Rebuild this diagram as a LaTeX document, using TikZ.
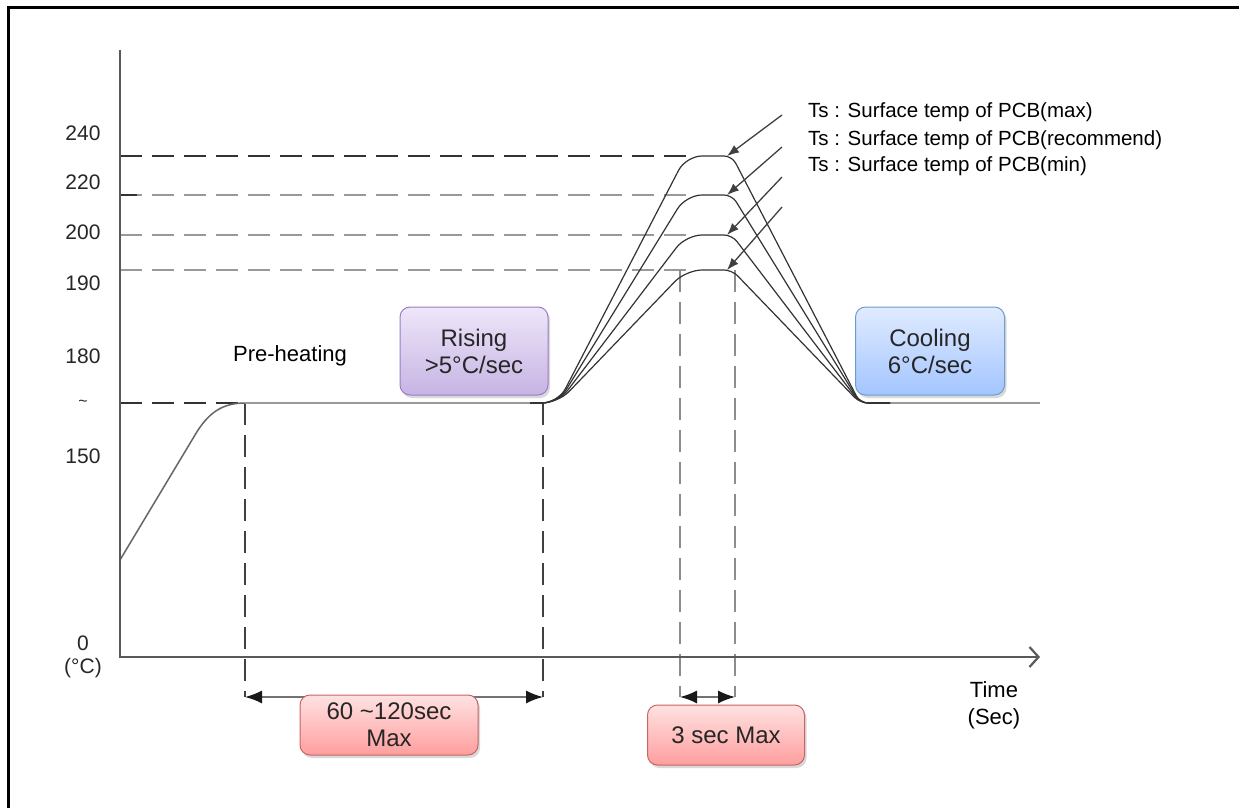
\documentclass[tikz,border=0pt]{standalone}
\usepackage{fontspec}
\setmainfont{Liberation Sans}
\usetikzlibrary{arrows.meta,shadows}
\definecolor{redtop}{RGB}{255,226,226}
\definecolor{redbot}{RGB}{255,158,158}
\definecolor{redline}{RGB}{200,100,100}
\definecolor{lilactop}{RGB}{238,230,249}
\definecolor{lilacbot}{RGB}{198,180,228}
\definecolor{lilacline}{RGB}{155,125,195}
\definecolor{skytop}{RGB}{224,235,255}
\definecolor{skybot}{RGB}{163,197,255}
\definecolor{skyline}{RGB}{110,155,210}

\begin{document}
\begin{tikzpicture}[x=1pt,y=-1pt,
    axis/.style={draw=black!65,line width=2.2pt},
    guide/.style={line width=2.4pt,dash pattern=on 22pt off 10pt},
    profile/.style={draw=black!80,line width=1.2pt},
    leader/.style={draw=black!75,line width=1.3pt,-{Latex[length=12pt,width=9pt]}},
    dim/.style={draw=black!55,line width=1.5pt,{Latex[length=17pt,width=13pt,color=black!90]}-{Latex[length=17pt,width=13pt,color=black!90]}},
    ylab/.style={font=\fontsize{21}{24}\selectfont,text=black!85},
    tslabel/.style={anchor=west,font=\fontsize{20.5}{22}\selectfont,inner sep=0pt},
    box/.style={rounded corners=10pt,line width=1pt,minimum height=60pt,align=center,
        font=\fontsize{24}{27}\selectfont,text=black!85,
        drop shadow={opacity=0.3,shadow xshift=2pt,shadow yshift=-3pt}},
    redbox/.style={draw=redline,top color=redtop,bottom color=redbot},
    purplebox/.style={draw=lilacline,top color=lilactop,bottom color=lilacbot},
    bluebox/.style={draw=skyline,top color=skytop,bottom color=skybot}]
    \useasboundingbox (0,0) rectangle (1239,808);
    \draw[line width=3pt] (8,808) -- (8,8) -- (1239,8);

    \foreach \val/\ypos in {240/133,220/182,200/232,190/283,180/356,150/456,0/643}
        \node[ylab] (y\val) at (83,\ypos) {\val};
    \node[ylab,font=\fontsize{16}{18}\selectfont] (ytilde) at (83,403) {\textasciitilde};
    \node[ylab] (yunit) at (83,668) {(°C)};

    \draw[guide,draw=black!80] (120,156) -- (690,156);
    \foreach \lev in {195,235,270}
        \draw[guide,draw=black!40] (120,\lev) -- (690,\lev);
    \draw[draw=black!80,line width=2.4pt] (120,195) -- (137,195);
    \draw[guide,draw=black!80] (120,403) -- (245,403);
    \foreach \xpos in {245,543}
        \draw[guide,draw=black!75,line width=1.8pt] (\xpos,403) -- (\xpos,697);
    \foreach \xpos in {680,735}
        \draw[guide,draw=black!45,line width=1.8pt] (\xpos,270) -- (\xpos,697);

    \draw[draw=black!60,line width=1.5pt] (120,560) -- (195,435) .. controls (208,413) and (222,403) .. (245,403);
    \draw[draw=black!40,line width=2pt] (245,403) -- (543,403);
    \draw[draw=black!40,line width=2pt] (870,403) -- (1040,403);

    \foreach \lev in {156,195,235,270}
        \draw[profile] (530,403) [rounded corners=16pt] -- (558,403) -- (686,\lev)
            [rounded corners=8pt] -- (732,\lev) -- (860,403) [rounded corners=16pt] -- (890,403);

    \draw[axis,-{Straight Barb[length=9pt,width=20pt]}] (120,50) -- (120,657) -- (1040,657);

    \foreach \lev/\ys in {156/115,195/147,235/177,270/207} {
        \coordinate (pk\lev) at (727,\lev);
        \coordinate (ld\lev) at (782,\ys);
        \draw[leader] (ld\lev) -- (pk\lev);
    }
    \node[tslabel] (tsmax) at (808,112) {Ts : Surface temp of PCB(max)};
    \node[tslabel] (tsrec) at (808,140) {Ts : Surface temp of PCB(recommend)};
    \node[tslabel] (tsmin) at (808,166) {Ts : Surface temp of PCB(min)};

    \coordinate (w1a) at (245,697);
    \coordinate (w1b) at (543,697);
    \coordinate (w2a) at (680,697);
    \coordinate (w2b) at (735,697);
    \draw[dim] (w1a) -- (w1b);
    \draw[dim] (w2a) -- (w2b);

    \node[font=\fontsize{22}{25}\selectfont] (preheat) at (290,356) {Pre-heating};
    \node[box,purplebox,minimum width=148pt,minimum height=88pt] (rise) at (474,351) {Rising\\>5°C/sec};
    \node[box,bluebox,minimum width=149pt,minimum height=88pt] (cool) at (930,351) {Cooling\\6°C/sec};
    \node[box,redbox,minimum width=178pt] (win1) at (389,725) {60 \textasciitilde120sec\\Max};
    \node[box,redbox,minimum width=157pt] (win2) at (726,735) {3 sec Max};
    \node[align=center,font=\fontsize{22}{27}\selectfont] (time) at (994,705) {Time\\(Sec)};
\end{tikzpicture}
\end{document}
